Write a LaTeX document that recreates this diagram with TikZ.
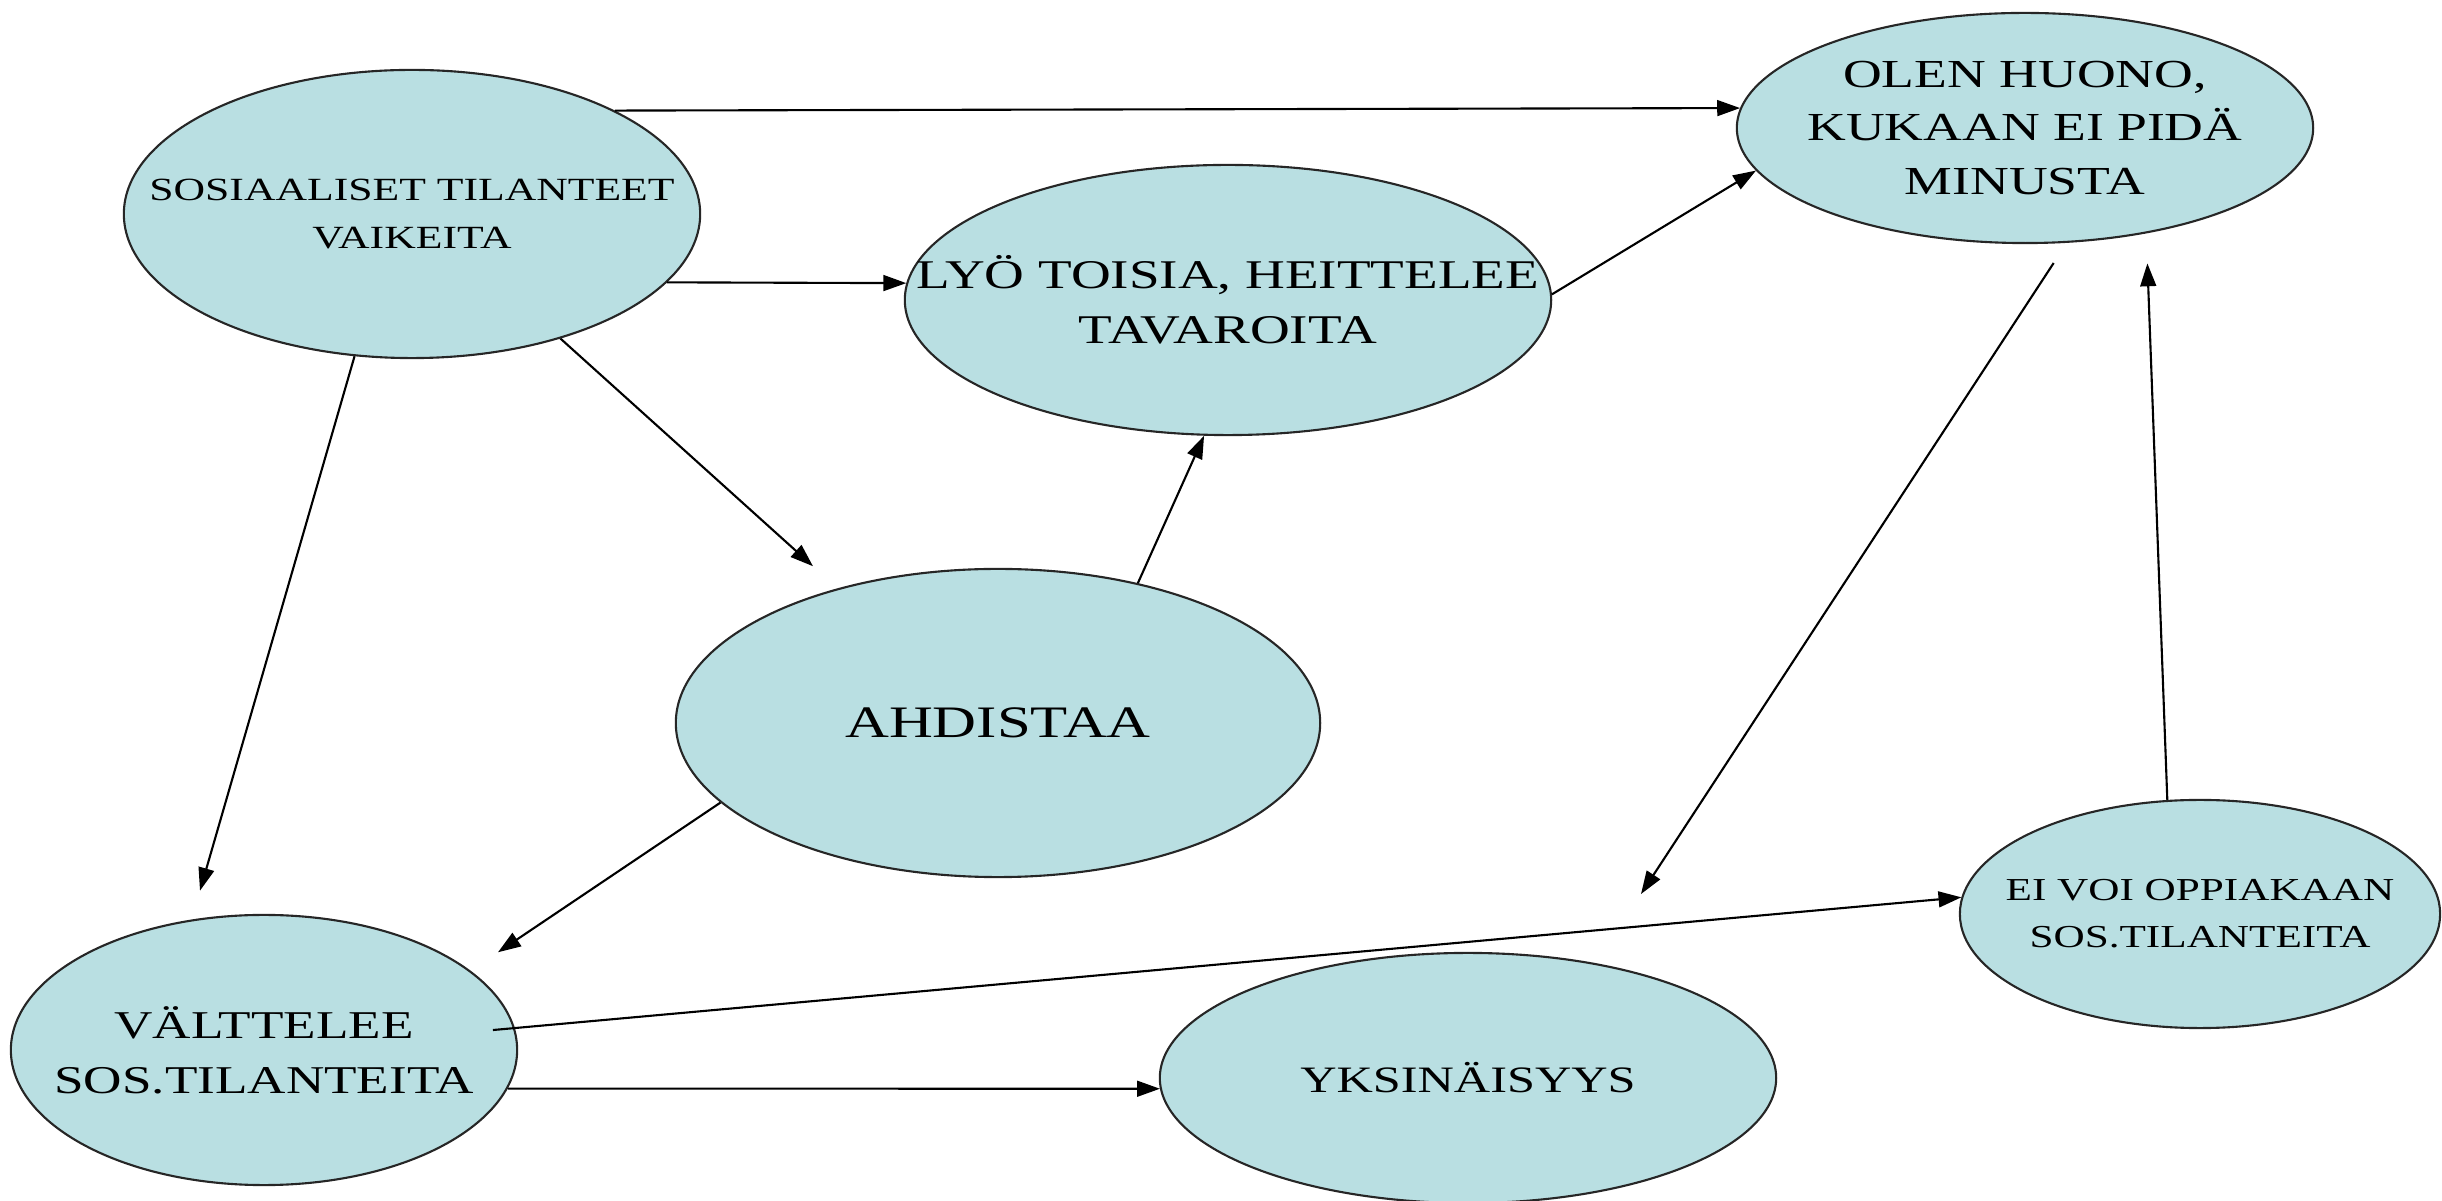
\documentclass[tikz,border=0pt]{standalone}
\usepackage{fontspec}
\setmainfont{Liberation Serif}[FakeStretch=1.35]
\usetikzlibrary{shapes.geometric,arrows.meta}
\definecolor{bubblefill}{RGB}{185,223,226}

\begin{document}
\begin{tikzpicture}[x=0.01cm,y=-0.01cm,
    bubble/.style={ellipse,draw=black!85,line width=0.6pt,fill=bubblefill,inner sep=0pt},
    txt/.style={align=center,inner sep=0pt},
    arr/.style={-{Triangle[length=6.5pt,width=4.5pt]},line width=0.6pt}
  ]
  \useasboundingbox (0,0) rectangle (2442,1201);
  \node[bubble,minimum width=5.76cm,minimum height=2.88cm] (sos) at (412,214) {};
  \node[bubble,minimum width=6.46cm,minimum height=2.70cm] (lyo) at (1228,300) {};
  \node[bubble,minimum width=5.76cm,minimum height=2.30cm] (olen) at (2025,128) {};
  \node[bubble,minimum width=6.44cm,minimum height=3.08cm] (ahd) at (998,723) {};
  \node[bubble,minimum width=5.06cm,minimum height=2.70cm] (valt) at (264,1050) {};
  \node[bubble,minimum width=6.16cm,minimum height=2.50cm] (yks) at (1468,1078) {};
  \node[bubble,minimum width=4.80cm,minimum height=2.28cm] (eivoi) at (2200,914) {};

  \node[txt,font=\fontsize{9.2}{13.4}\selectfont] (sos-t) at (sos) {SOSIAALISET TILANTEET\\VAIKEITA};
  \node[txt,font=\fontsize{11.6}{15.6}\selectfont] (lyo-t) at (lyo) {LYÖ TOISIA, HEITTELEE\\TAVAROITA};
  \node[txt,font=\fontsize{11.3}{15.2}\selectfont] (olen-t) at (olen) {OLEN HUONO,\\KUKAAN EI PIDÄ\\MINUSTA};
  \node[txt,font=\fontsize{12.8}{15}\selectfont] (ahd-t) at (ahd) {AHDISTAA};
  \node[txt,font=\fontsize{11.2}{15.6}\selectfont] (valt-t) at (valt) {VÄLTTELEE\\SOS.TILANTEITA};
  \node[txt,font=\fontsize{10.6}{14}\selectfont] (yks-t) at (yks) {YKSINÄISYYS};
  \node[txt,font=\fontsize{9.1}{13.4}\selectfont] (eivoi-t) at (eivoi) {EI VOI OPPIAKAAN\\SOS.TILANTEITA};

  \coordinate (lonely) at (1641,894);

  \draw[arr] (sos.27.6) -- (olen.176);
  \draw[arr] (sos.-15) -- (lyo.177);
  \draw[arr,shorten >=0.33cm] (sos.-40) -- (ahd.140);
  \draw[arr,shorten >=0.3cm] (sos.248) -- (valt.119);
  \draw[arr] (ahd.45) -- (lyo.-100);
  \draw[arr,shorten >=0.33cm] (ahd.196) -- (valt.21);
  \draw[arr] (lyo.1) -- (olen.189);
  \draw[arr,shorten <=0.24cm] (olen.-70) -- (lonely);
  \draw[arr,shorten >=0.3cm] (eivoi.106) -- (olen.-41);
  \draw[arr,shorten <=-0.22cm] (valt.5) -- (eivoi.176);
  \draw[arr] (valt.-9) -- (yks.182);
\end{tikzpicture}
\end{document}
